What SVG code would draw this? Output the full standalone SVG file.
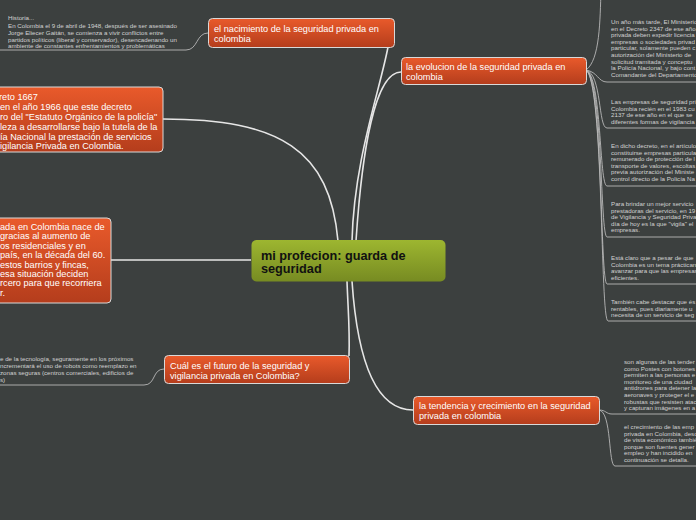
<svg xmlns="http://www.w3.org/2000/svg" width="696" height="520" viewBox="0 0 696 520">
<defs>
<linearGradient id="og" x1="0" y1="0" x2="0" y2="1"><stop offset="0" stop-color="#e95a2b"/><stop offset="1" stop-color="#b43d1c"/></linearGradient>
<linearGradient id="gg" x1="0" y1="0" x2="0" y2="1"><stop offset="0" stop-color="#9db630"/><stop offset="1" stop-color="#778b22"/></linearGradient>
<style>
.nd{fill:url(#og);stroke:#d9d9d9;stroke-width:1}
.nt{font-family:"Liberation Sans",Arial,sans-serif;font-size:9.2px;fill:#ffffff}
.ct{font-family:"Liberation Sans",Arial,sans-serif;font-size:12.7px;font-weight:bold;fill:#111}
.sm{font-family:"Liberation Sans",Arial,sans-serif;font-size:6.2px;fill:#d2d2d2}
.mc{fill:none;stroke:#e6e6e6;stroke-width:1.6}
.tc{fill:none;stroke:#b8b8b8;stroke-width:0.9}
</style>
</defs>
<rect width="696" height="520" fill="#3c403f"/>
<g id="connectors">
<path class="mc" d="M352 241 C354 160 380 90 388 47"/>
<path class="mc" d="M356 241 C362 150 375 72 401 72"/>
<path class="mc" d="M338 241 C330 150 280 119 163 119"/>
<path class="mc" d="M111 260 L251 260"/>
<path class="mc" d="M347 281 C348 310 350 330 349 356"/>
<path class="mc" d="M352 281 C358 370 380 410 413 410"/>
<path class="tc" d="M208 33 C196 33 198 50 186 50 L0 50"/>
<path class="tc" d="M164 369 C152 369 156 385 144 385 L0 385"/>
<path class="tc" d="M586 70 C600 60 600 20 601 -10"/>
<path class="tc" d="M586 70 C598 72 598 82 607 82 L696 82"/>
<path class="tc" d="M586 70 C602 74 598 128 607 128 L696 128"/>
<path class="tc" d="M586 70 C602 76 599 186 607 186 L696 186"/>
<path class="tc" d="M586 70 C603 78 600 237 607 237 L696 237"/>
<path class="tc" d="M586 70 C603 80 600 284 607 284 L696 284"/>
<path class="tc" d="M586 70 C604 82 600 321 608 321 L696 321"/>
<path class="tc" d="M599 410 C606 410 606 414 612 414 L696 414"/>
<path class="tc" d="M599 410 C612 412 608 466 615 466 L696 466"/>
</g>
<g id="n-center">
<rect x="251.5" y="240" width="194" height="41.5" rx="5" fill="url(#gg)"/>
<text class="ct" x="261" y="259.5">mi profecion: guarda de</text>
<text class="ct" x="261" y="273">seguridad</text>
</g>
<g id="n-nacimiento">
<rect class="nd" x="208.5" y="18.5" width="186" height="29" rx="4"/>
<text class="nt" x="214" y="32">el nacimiento de la seguridad privada en</text>
<text class="nt" x="214" y="42">colombia</text>
</g>
<g id="n-evolucion">
<rect class="nd" x="401.5" y="57.5" width="185" height="27" rx="4"/>
<text class="nt" x="406" y="69.5">la  evolucion de la seguridad privada en</text>
<text class="nt" x="406" y="79.5">colombia</text>
</g>
<g id="n-decreto">
<rect class="nd" x="-10" y="87" width="173" height="65" rx="4"/>
<text class="nt" x="-1" y="99.5">reto 1667</text>
<text class="nt" x="0" y="109.5">en el año 1966 que este decreto</text>
<text class="nt" x="0" y="119.5">ro del "Estatuto Orgánico de la policía"</text>
<text class="nt" x="0" y="129.5">leza a desarrollarse bajo la tutela de la</text>
<text class="nt" x="0" y="139.5">ía Nacional la prestación de servicios</text>
<text class="nt" x="0" y="149.3">igilancia Privada en Colombia.</text>
</g>
<g id="n-nace">
<rect class="nd" x="-10" y="218" width="121" height="85" rx="4"/>
<text class="nt" x="0" y="230">ada en Colombia nace de</text>
<text class="nt" x="0" y="239.4">gracias al aumento de</text>
<text class="nt" x="0" y="248.8">os residenciales y en</text>
<text class="nt" x="0" y="258.2">país, en la década del 60.</text>
<text class="nt" x="0" y="267.6"> estos barrios y fincas,</text>
<text class="nt" x="0" y="277">esa situación deciden</text>
<text class="nt" x="0" y="286.4">rcero para que recorriera</text>
<text class="nt" x="0" y="295.8">r.</text>
</g>
<g id="n-futuro">
<rect class="nd" x="164.5" y="355.5" width="185" height="28" rx="4"/>
<text class="nt" x="170" y="368.5">Cuál es el futuro de la seguridad y</text>
<text class="nt" x="170" y="378.5">vigilancia privada en Colombia?</text>
</g>
<g id="n-tendencia">
<rect class="nd" x="413.5" y="396.5" width="186" height="28" rx="4"/>
<text class="nt" x="419" y="409">la tendencia y crecimiento en la seguridad</text>
<text class="nt" x="419" y="419">privada en colombia</text>
</g>
<g id="t-historia">
<text class="sm" x="8" y="20">Historia...</text>
<text class="sm" x="8" y="27.5">En Colombia el 9 de abril de 1948, después de ser asesinado</text>
<text class="sm" x="8" y="34.5">Jorge Eliecer Gaitán, se comienza a vivir conflictos entre</text>
<text class="sm" x="8" y="41.5">partidos políticos (liberal y conservador), desencadenando un</text>
<text class="sm" x="8" y="48">ambiente de constantes enfrentamientos y problemáticas</text>
</g>
<g id="t-futuro">
<text class="sm" x="0" y="361">e de la tecnología, seguramente en los próximos</text>
<text class="sm" x="0" y="368">ncrementará el uso de robots como reemplazo en</text>
<text class="sm" x="0" y="375">zonas seguras (centros comerciales, edificios de</text>
<text class="sm" x="0" y="381.5">s)</text>
</g>
<g id="t-a">
<text class="sm" x="611" y="24">Un año más tarde, El Ministerio</text>
<text class="sm" x="611" y="30.6">en el Decreto 2347 de ese año</text>
<text class="sm" x="611" y="37.2">privada deben expedir licencia</text>
<text class="sm" x="611" y="43.8">empresas o sociedades privad</text>
<text class="sm" x="611" y="50.4">particular, solamente pueden c</text>
<text class="sm" x="611" y="57">autorización del Ministerio de</text>
<text class="sm" x="611" y="63.6">solicitud tramitada y conceptu</text>
<text class="sm" x="611" y="70.2">la Policía Nacional, y bajo cont</text>
<text class="sm" x="611" y="76.8">Comandante del Departamento</text>
</g>
<g id="t-b">
<text class="sm" x="611" y="104">Las empresas de seguridad pri</text>
<text class="sm" x="611" y="110.6">Colombia recién en el 1983 cu</text>
<text class="sm" x="611" y="117.2">2137 de ese año en el que se</text>
<text class="sm" x="611" y="123.8">diferentes formas de vigilancia</text>
</g>
<g id="t-c">
<text class="sm" x="611" y="148">En dicho decreto, en el artículo</text>
<text class="sm" x="611" y="154.6">constituirse empresas particula</text>
<text class="sm" x="611" y="161.2">remunerado de protección de l</text>
<text class="sm" x="611" y="167.8">transporte de valores, escoltas</text>
<text class="sm" x="611" y="174.4">previa autorización del Ministe</text>
<text class="sm" x="611" y="181">control directo de la Policía Na</text>
</g>
<g id="t-d">
<text class="sm" x="611" y="206">Para brindar un mejor servicio</text>
<text class="sm" x="611" y="212.6">prestadoras del servicio, en 19</text>
<text class="sm" x="611" y="219.2">de Vigilancia y Seguridad Priva</text>
<text class="sm" x="611" y="225.8">día de hoy es la que "vigila" el</text>
<text class="sm" x="611" y="232.4">empresas.</text>
</g>
<g id="t-e">
<text class="sm" x="611" y="260">Está claro que a pesar de que</text>
<text class="sm" x="611" y="266.6">Colombia es un tema práctican</text>
<text class="sm" x="611" y="273.2">avanzar para que las empresas</text>
<text class="sm" x="611" y="279.8">eficientes.</text>
</g>
<g id="t-f">
<text class="sm" x="611" y="304">También cabe destacar que és</text>
<text class="sm" x="611" y="310.6">rentables, pues diariamente u</text>
<text class="sm" x="611" y="317.2">necesita de un servicio de seg</text>
</g>
<g id="t-g">
<text class="sm" x="624" y="364">son algunas de las tender</text>
<text class="sm" x="624" y="370.6">como Postes con botones</text>
<text class="sm" x="624" y="377.2">permiten a las personas e</text>
<text class="sm" x="624" y="383.8">monitoreo de una ciudad</text>
<text class="sm" x="624" y="390.4">antidrones para detener la</text>
<text class="sm" x="624" y="397">aeronaves y proteger el e</text>
<text class="sm" x="624" y="403.6">robustas que resisten atac</text>
<text class="sm" x="624" y="410.2">y capturan imágenes en a</text>
</g>
<g id="t-h">
<text class="sm" x="624" y="429">el crecimiento de las emp</text>
<text class="sm" x="624" y="435.6">privada en Colombia, desd</text>
<text class="sm" x="624" y="442.2">de vista económico tambié</text>
<text class="sm" x="624" y="448.8">porque son fuentes gener</text>
<text class="sm" x="624" y="455.4">empleo y han incidido en</text>
<text class="sm" x="624" y="462">continuación se detalla.</text>
</g>
</svg>
